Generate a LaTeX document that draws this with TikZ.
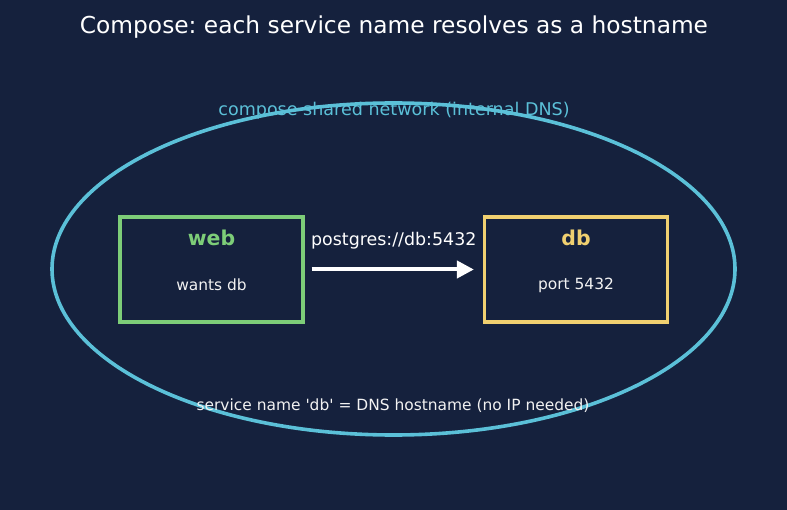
\documentclass[tikz,border=0pt]{standalone}
\usepackage{fontspec}
\setmainfont{DejaVu Sans}
\newfontfamily\plainquotes{DejaVu Sans}
\usetikzlibrary{arrows.meta}
\definecolor{bgnavy}{HTML}{15213D}
\definecolor{netblue}{HTML}{5BC0D8}
\definecolor{webgreen}{HTML}{7DCD78}
\definecolor{dbyellow}{HTML}{F0D070}
\definecolor{softwhite}{HTML}{F2F2F2}
\frenchspacing

\begin{document}
\begin{tikzpicture}[x=1bp, y=-1bp,
    service box/.style={draw, line width=3.2bp, minimum width=183bp, minimum height=105bp, inner sep=0pt},
    service name/.style={font=\fontsize{20.5}{24}\selectfont\bfseries},
    service note/.style={text=softwhite, font=\fontsize{15.5}{18}\selectfont}]

      \fill [bgnavy] (0,0) rectangle (787,510);
      \useasboundingbox (0,0) rectangle (787,510);

      \node [text=white, font=\fontsize{23.4}{27}\selectfont] (title) at (394,27) {Compose: each service name resolves as a hostname};

      \draw [netblue, line width=3.6bp] (393.5,269) ellipse [x radius=341.5, y radius=166];
      \node [text=netblue, font=\fontsize{17.6}{21}\selectfont] (net-label) at (394,111) {compose shared network (internal DNS)};

      \foreach \n/\c/\x in {web/webgreen/211.5, db/dbyellow/576}
      \node [service box, draw=\c] (box-\n) at (\x,269.5) {};

      \node [service name, text=webgreen] (name-web) at (211.5,238) {web};
      \node [service note] (note-web) at (211.5,285) {wants db};
      \node [service name, text=dbyellow] (name-db) at (576,238) {db};
      \node [service note] (note-db) at (576,285) {port 5432};

      \draw [-{Triangle[length=17bp, width=17bp]}, white, line width=4bp, shorten <=7bp, shorten >=9bp] (box-web) -- (box-db)
      node [above=15bp, midway, text=white, font=\fontsize{17.5}{21}\selectfont] (url) {postgres://db:5432};

      \node [service note, font=\plainquotes\fontsize{15.5}{18}\selectfont] (dns-note) at (393,406) {service name 'db' = DNS hostname (no IP needed)};

    \end{tikzpicture}
\end{document}
